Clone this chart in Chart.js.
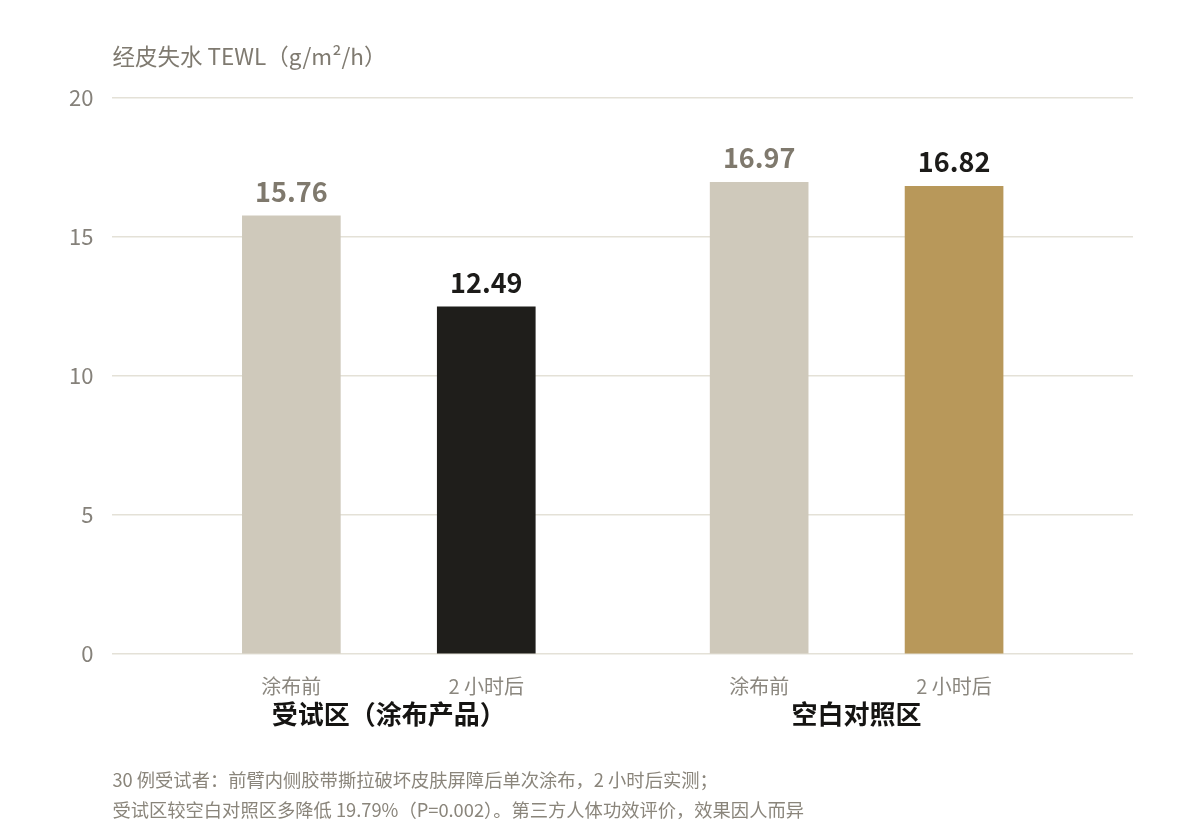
<!DOCTYPE html>
<html>
<head>
<meta charset="utf-8">
<script src="https://cdn.jsdelivr.net/npm/chart.js@4.4.1/dist/chart.umd.min.js"></script>
<style>
  html, body { margin: 0; padding: 0; background: #fff; }
  #wrap { width: 1200px; height: 840px; position: relative; }
</style>
</head>
<body>
<div id="wrap"><canvas id="mychart"></canvas></div>
<script>
const groups = ['受试区（涂布产品）', '空白对照区'];
const phases = ['涂布前', '2 小时后'];
const beforeValues = [15.76, 16.97];
const afterValues = [12.49, 16.82];
const yTicks = [0, 5, 10, 15, 20];
const axisTitle = '经皮失水 TEWL（g/m²/h）';
const notes = [
    '30 例受试者：前臂内侧胶带撕拉破坏皮肤屏障后单次涂布，2 小时后实测；',
    '受试区较空白对照区多降低 19.79%（P=0.002）。第三方人体功效评价，效果因人而异'
];

const FONT = '"Noto Sans CJK SC", "Noto Sans", sans-serif';
// bars sit one unit apart inside a group, groups are 2.4 units apart
const GROUP_STEP = 2.4;
const EDGE = 0.918;
const barPos = [];
groups.forEach((g, k) => phases.forEach((p, i) => barPos.push(k * GROUP_STEP + i)));
const groupPos = groups.map((g, k) => k * GROUP_STEP + 0.5);
const xMin = -EDGE;
const xMax = (groups.length - 1) * GROUP_STEP + 1 + EDGE;

const valueLabels = {
    id: 'valueLabels',
    afterDatasetsDraw(chart) {
        const c = chart.ctx;
        c.save();
        c.font = 'bold 27px ' + FONT;
        c.textAlign = 'center';
        c.textBaseline = 'alphabetic';
        chart.data.datasets.forEach((ds, di) => {
            chart.getDatasetMeta(di).data.forEach((bar, j) => {
                c.fillStyle = ds.labelColor;
                c.fillText(ds.data[j].y.toFixed(2), bar.x, bar.y - 14);
            });
        });
        c.restore();
    }
};

const extraText = {
    id: 'extraText',
    afterDraw(chart) {
        const c = chart.ctx;
        const a = chart.chartArea;
        const xs = chart.scales.x;
        c.save();
        c.textBaseline = 'middle';
        // group names under the phase ticks
        c.textAlign = 'center';
        c.fillStyle = '#151412';
        c.font = 'bold 26px ' + FONT;
        groups.forEach((g, k) => c.fillText(g, xs.getPixelForValue(groupPos[k]), a.bottom + 60));
        c.textAlign = 'left';
        c.fillStyle = '#7f7a70';
        c.font = '22.5px ' + FONT;
        c.fillText(axisTitle, a.left, 56);
        c.fillStyle = '#8a857b';
        c.font = '18.3px ' + FONT;
        notes.forEach((t, i) => c.fillText(t, a.left, 780 + i * 30));
        c.restore();
    }
};

new Chart(document.getElementById('mychart'), {
    type: 'bar',
    data: {
        datasets: [{
            label: phases[0],
            data: beforeValues.map((v, k) => ({ x: k * GROUP_STEP, y: v })),
            backgroundColor: '#cfc9bb',
            labelColor: '#7f796d'
        }, {
            label: phases[1],
            data: afterValues.map((v, k) => ({ x: k * GROUP_STEP + 1, y: v })),
            backgroundColor: ['#1f1e1b', '#b8985a'],
            labelColor: '#1c1b19'
        }]
    },
    options: {
        responsive: true,
        maintainAspectRatio: false,
        animation: false,
        grouped: false,
        barPercentage: 1,
        categoryPercentage: 1,
        maxBarThickness: 98,
        layout: { padding: { top: 98, right: 67, bottom: 122, left: 50 } },
        plugins: {
            legend: { display: false },
            tooltip: { enabled: false }
        },
        scales: {
            x: {
                type: 'linear',
                min: xMin,
                max: xMax,
                offset: false,
                afterBuildTicks: (scale) => { scale.ticks = barPos.map(v => ({ value: v })); },
                grid: { display: false, drawTicks: false, offset: false },
                border: { display: false },
                ticks: {
                    autoSkip: false,
                    maxRotation: 0,
                    padding: 20,
                    color: '#8b877f',
                    font: { family: FONT, size: 20 },
                    callback: (v, i) => phases[i % phases.length]
                }
            },
            y: {
                min: 0,
                max: 20,
                afterBuildTicks: (scale) => { scale.ticks = yTicks.map(v => ({ value: v })); },
                grid: { color: '#e4e1d7', lineWidth: 1.5, drawTicks: false },
                border: { display: false },
                ticks: {
                    padding: 19,
                    color: '#85817a',
                    font: { family: FONT, size: 22 }
                }
            }
        }
    },
    plugins: [valueLabels, extraText]
});
</script>
</body>
</html>
